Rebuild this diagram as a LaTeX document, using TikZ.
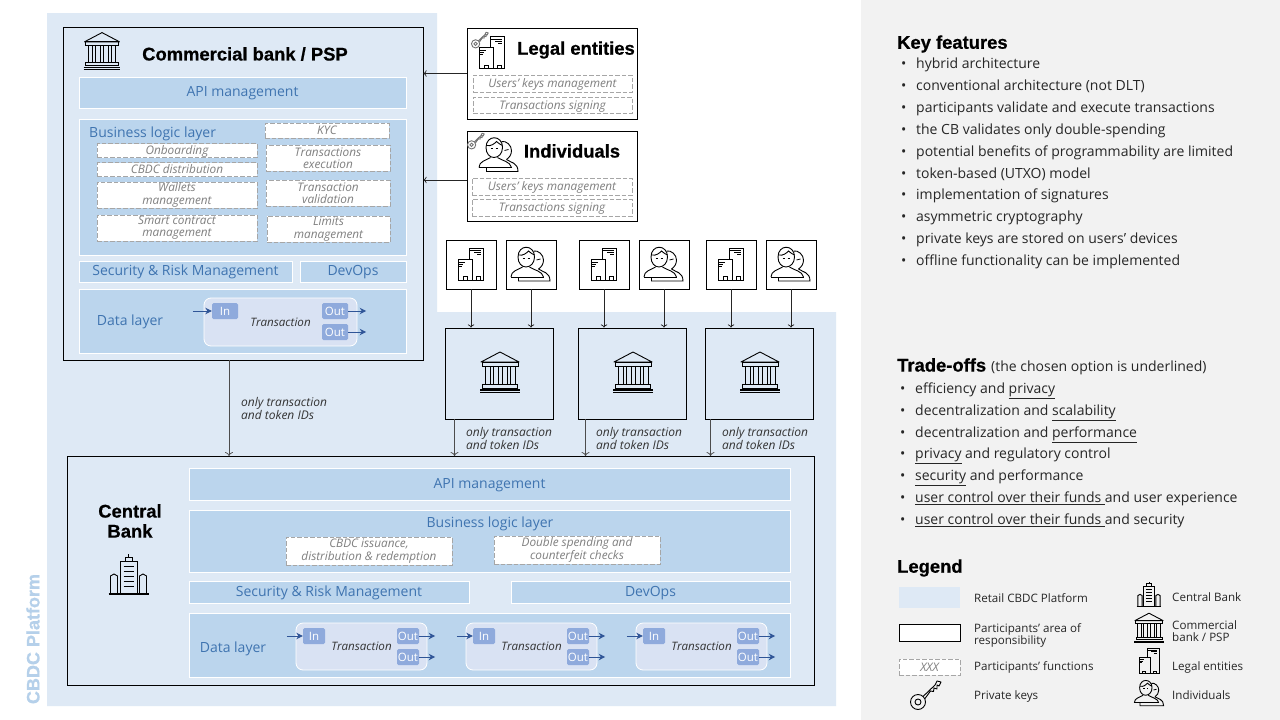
\documentclass[tikz,border=0pt]{standalone}
\usepackage{fontspec}
\setmainfont{Open Sans}
\newfontfamily\headfont[BoldFeatures={FakeBold=0.6}]{Liberation Sans}
\usepackage{tikz}
\usetikzlibrary{positioning}
\usetikzlibrary{arrows.meta}

\definecolor{platform}{HTML}{DEE9F5}
\definecolor{bandblue}{HTML}{BBD5ED}
\definecolor{bandtext}{HTML}{3F74B0}
\definecolor{platformtext}{HTML}{B5D0EA}
\definecolor{panelgrey}{HTML}{F2F2F2}
\definecolor{txbox}{HTML}{D9E2F3}
\definecolor{portblue}{HTML}{8FAADC}
\definecolor{flowblue}{HTML}{2F5597}
\definecolor{dashgrey}{HTML}{A6A6A6}
\definecolor{dashtext}{HTML}{7F7F7F}
\definecolor{bodytext}{HTML}{262626}

\newcommand{\bul}{\makebox[15pt][l]{•}}

\tikzset{
  bankicon/.pic={
    \draw [line width=.9pt,line join=round] (-19,-10) -- (0,-20) -- (19,-10) -- cycle;
    \draw [line width=.9pt] (-18,-10) rectangle (18,-5.5);
    \draw [line width=.9pt] (-15,-5.5) rectangle (15,12.5);
    \draw [line width=.9pt] (-10,-5.5) -- (-10,12.5) (-7,-5.5) -- (-7,12.5) (-2,-5.5) -- (-2,12.5)
      (2,-5.5) -- (2,12.5) (7,-5.5) -- (7,12.5) (10,-5.5) -- (10,12.5);
    \draw [line width=.9pt] (-17.5,12.5) rectangle (17.5,16);
    \draw [line width=1.1pt] (-20,18) -- (20,18);
    \draw [line width=.8pt] (-20,20) -- (20,20);
  },
  towericon/.pic={
    \draw [line width=1.3pt] (-20,19) -- (20,19);
    \draw [line width=.9pt] (-8.5,19) -- (-8.5,-14) -- (8.5,-14) -- (8.5,19);
    \draw [line width=.9pt] (-3.5,-14) -- (-3.5,-18) -- (3.5,-18) -- (3.5,-14);
    \draw [line width=.9pt] (0,-18) -- (0,-21);
    \draw [line width=.9pt] (-18,19) -- (-18,1) -- (-14.5,-1) -- (-11,1) -- (-11,19);
    \draw [line width=.9pt] (18,19) -- (18,1) -- (14.5,-1) -- (11,1) -- (11,19);
    \draw [line width=1pt] (-5,-9) -- (5,-9) (-5,-4) -- (5,-4) (-5,1) -- (5,1) (-5,6) -- (5,6) (-5,11) -- (5,11);
  },
  officeicon/.pic={
    \draw [line width=.9pt] (1.5,-5) -- (-1.5,-5) -- (-1.5,-16) -- (12.5,-16) -- (12.5,16) -- (-12.5,16) -- (-12.5,-5) -- (1.5,-5) -- (1.5,16);
    \draw [line width=.9pt] (-1.5,-13.5) -- (10,-13.5) (3,-11.5) -- (10,-11.5) (6,-9.5) -- (10,-9.5);
    \draw [line width=.9pt] (-12.5,-2) -- (-6,-2) (-12.5,0) -- (-8,0) (-12.5,2) -- (-9,2);
    \draw [line width=.8pt] (-8,16) rectangle (-4,12.5);
    \draw [line width=.8pt] (5,16) rectangle (9,12.5);
  },
  peopleicon/.pic={
    \draw [line width=.9pt] (-12.5,-7) .. controls (-12.5,-20) and (4,-20) .. (4,-7)
      .. controls (4,-1) and (0,3) .. (-4.5,3) .. controls (-9,3) and (-12.5,-1) .. (-12.5,-7);
    \draw [line width=.9pt] (-12,-9) .. controls (-7,-8) and (-4,-11) .. (-2,-13) .. controls (0,-11) and (2,-10) .. (4,-9);
    \draw [line width=.9pt] (-8,-6) -- (-6,-6) (-3,-6) -- (-1,-6);
    \draw [line width=.9pt] (-19.5,13) .. controls (-19.5,7) and (-13,6) .. (-8,3) (-1,3) .. controls (3,6) and (12,7) .. (13,13);
    \draw [line width=.9pt] (-19.5,13) -- (13,13);
    \draw [line width=.9pt] (3,-13) .. controls (8,-14) and (13,-9) .. (13,-4) .. controls (13,0) and (11,3) .. (8,5);
    \draw [line width=.9pt] (8,5) .. controls (12,8) and (19.5,8) .. (19.5,17) -- (-12,17) -- (-12,13);
    \draw [line width=.8pt] (6,-4) -- (10,-5);
  },
  keyicon/.pic={
    \draw [line width=.9pt] (-8,7) circle (7.5);
    \draw [line width=.9pt] (-8,7) circle (3);
    \draw [line width=.9pt,line join=round] (-3,1.5) -- (9,-10) -- (11,-14) -- (15,-13) -- (13,-9) -- (11,-10)
      -- (11,-6) -- (8,-7) -- (7.5,-3.5) -- (4.5,-4) -- (-1,3.5);
  },
  band/.style={draw=white,line width=.7pt,fill=bandblue,text=bandtext,inner sep=0pt,text height=10pt,text depth=1.5pt,font=\fontsize{14}{15}\selectfont},
  bandtitle/.style={inner sep=0pt,text=bandtext,font=\fontsize{14}{15}\selectfont},
  respbox/.style={draw=black,line width=.9pt,inner sep=0pt},
  dashbox/.style={draw=dashgrey,dash pattern=on 4.5pt off 2pt,line width=.9pt,fill=white,text=dashtext,inner sep=0pt,align=center,font=\itshape\fontsize{11.8}{12.2}\selectfont},
  dashone/.style={dashbox,text height=9pt,text depth=1pt},
  txnbox/.style={draw=white,line width=.8pt,fill=txbox,rounded corners=7pt,inner sep=0pt,text=black!80,font=\itshape\fontsize{11.6}{12}\selectfont},
  port/.style={fill=portblue,rounded corners=1.5pt,text=white,inner sep=0pt,font=\fontsize{11.5}{12}\selectfont},
  flow/.style={-{Stealth[length=6.5pt,width=6.5pt]},draw=flowblue,line width=.9pt},
  feed/.style={->,draw=black!85,line width=.7pt},
  drop/.style={-{To[length=4pt,width=8pt]},draw=black!70,line width=.7pt},
  head/.style={inner sep=0pt,font=\headfont\bfseries\fontsize{18.4}{20}\selectfont},
  note/.style={inner sep=0pt,anchor=north west,align=left,text=black!80,font=\itshape\fontsize{12}{11.5}\selectfont},
  listitem/.style={anchor=west,inner sep=0pt,text=bodytext,text height=11pt,text depth=0pt,font=\fontsize{14}{15}\selectfont},
  legtext/.style={anchor=west,inner sep=0pt,align=left,text=bodytext,font=\fontsize{11.6}{12}\selectfont},
  legone/.style={legtext,text height=9.5pt,text depth=.7pt},
}

\begin{document}
\begin{tikzpicture}[x=1pt,y=-1pt]
    \useasboundingbox (0,0) rectangle (1280,720);
    \fill [white] (0,0) rectangle (1280,720);
    \fill [panelgrey] (861,0) rectangle (1280,720);
    \fill [platform] (47,13) -- (437,13) -- (437,312) -- (836,312) -- (836,706) -- (47,706) -- cycle;

    \node (platformname) at (33,639) [rotate=90,inner sep=0pt,text=platformtext,font=\headfont\bfseries\fontsize{18}{18}\selectfont] {CBDC Platform};

    % commercial bank
    \node (psp) at (243,193.5) [respbox,minimum width=360,minimum height=333] {};
    \pic at (102,51) [scale=.92] {bankicon};
    \node (psptitle) at (245,54) [head] {Commercial bank / PSP};
    \node (pspapi) at (242.5,92.5) [band,minimum width=327,minimum height=31] {API management};
    \node (pspbiz) at (242.5,187) [band,minimum width=327,minimum height=136] {};
    \node (pspbiztitle) at (89,134) [bandtitle,anchor=west] {Business logic layer};
    \node (kyc) at (327,130.5) [dashone,minimum width=124,minimum height=15] {KYC};
    \node (onboard) at (177,150.5) [dashone,minimum width=160,minimum height=14] {Onboarding};
    \node (distrib) at (177,169.5) [dashone,minimum width=160,minimum height=14] {CBDC distribution};
    \node (wallets) at (177,195) [dashbox,minimum width=160,minimum height=26] {Wallets\\management};
    \node (smart) at (177,228) [dashbox,minimum width=160,minimum height=26] {Smart contract\\management};
    \node (execut) at (328,158) [dashbox,minimum width=124,minimum height=26] {Transactions\\execution};
    \node (valid) at (328,193) [dashbox,minimum width=124,minimum height=26] {Transaction\\validation};
    \node (limits) at (328.5,229) [dashbox,minimum width=123,minimum height=26] {Limits\\management};
    \node (pspsec) at (185.5,271.5) [band,minimum width=213,minimum height=21] {Security \& Risk Management};
    \node (pspdev) at (353,271.5) [band,minimum width=106,minimum height=21] {DevOps};
    \node (pspdata) at (242.5,321) [band,minimum width=327,minimum height=64] {};
    \node (pspdatatitle) at (130,322) [bandtitle] {Data layer};
    \node (ptx) at (280.5,322) [txnbox,minimum width=153,minimum height=48] {Transaction};
    \node (ptxin) at (225,311) [port,minimum width=26,minimum height=16] {In};
    \node (ptxout1) at (335,311) [port,minimum width=26,minimum height=16] {Out};
    \node (ptxout2) at (335,332) [port,minimum width=26,minimum height=16] {Out};
    \coordinate [left=19pt of ptxin] (ptxa);
    \coordinate [right=18pt of ptxout1] (ptxb);
    \coordinate [right=18pt of ptxout2] (ptxc);
    \draw [flow] (ptxa) to (ptxin);
    \draw [flow] (ptxout1) to (ptxb);
    \draw [flow] (ptxout2) to (ptxc);

    % legal entities and individuals
    \node (legal) at (552,73.5) [respbox,minimum width=170,minimum height=91] {};
    \pic at (492,52.5) {officeicon};
    \pic [color=black!55] at (480,40) [scale=.55] {keyicon};
    \node (legaltitle) at (576,50) [head] {Legal entities};
    \node (legalkeys) at (552.5,83.5) [dashone,fill=none,minimum width=159,minimum height=17] {Users’ keys management};
    \node (legalsign) at (552.5,105) [dashone,fill=none,minimum width=159,minimum height=16] {Transactions signing};
    \node (indiv) at (552,176) [respbox,minimum width=170,minimum height=90] {};
    \pic at (498.5,154.5) {peopleicon};
    \pic [color=black!55] at (476,141) [scale=.55] {keyicon};
    \node (indivtitle) at (572,151) [head] {Individuals};
    \node (indivkeys) at (552,186.5) [dashone,fill=none,minimum width=160,minimum height=17] {Users’ keys management};
    \node (indivsign) at (552,207.5) [dashone,fill=none,minimum width=160,minimum height=17] {Transactions signing};
    \coordinate (indivport) at (467,180);
    \draw [feed] (legal.west) to (legal.west -| psp.east);
    \draw [feed] (indivport) to (indivport -| psp.east);

    % participants of the other banks
    \node (user1) at (471,264.5) [respbox,minimum width=50,minimum height=49] {};
    \node (user2) at (531,264.5) [respbox,minimum width=50,minimum height=49] {};
    \node (user3) at (604,264.5) [respbox,minimum width=50,minimum height=49] {};
    \node (user4) at (664,264.5) [respbox,minimum width=50,minimum height=49] {};
    \node (user5) at (731,264.5) [respbox,minimum width=50,minimum height=49] {};
    \node (user6) at (791,264.5) [respbox,minimum width=50,minimum height=49] {};
    \pic at (471,264) {officeicon};
    \pic at (530.5,264) {peopleicon};
    \pic at (604,264) {officeicon};
    \pic at (663.5,264) {peopleicon};
    \pic at (731,264) {officeicon};
    \pic at (790.5,264) {peopleicon};

    \node (bank1) at (499.5,373.5) [respbox,minimum width=108,minimum height=91] {};
    \node (bank2) at (632.5,373.5) [respbox,minimum width=108,minimum height=91] {};
    \node (bank3) at (759.5,373.5) [respbox,minimum width=108,minimum height=91] {};
    \pic at (500,372) {bankicon};
    \pic at (633,372) {bankicon};
    \pic at (760,372) {bankicon};
    \draw [feed] (user1) to (user1 |- bank1.north);
    \draw [feed] (user2) to (user2 |- bank1.north);
    \draw [feed] (user3) to (user3 |- bank2.north);
    \draw [feed] (user4) to (user4 |- bank2.north);
    \draw [feed] (user5) to (user5 |- bank3.north);
    \draw [feed] (user6) to (user6 |- bank3.north);

    % central bank
    \node (cb) at (440.5,570.5) [respbox,minimum width=747,minimum height=229] {};
    \node (cbtitle) at (130,521) [head,align=center] {Central\\Bank};
    \pic at (128.5,575) {towericon};
    \node (cbapi) at (489.5,484) [band,minimum width=601,minimum height=32] {API management};
    \node (cbbiz) at (489.5,541) [band,minimum width=601,minimum height=62] {};
    \node (cbbiztitle) at (490,524) [bandtitle] {Business logic layer};
    \node (issue) at (369,551) [dashbox,minimum width=166,minimum height=28] {CBDC issuance,\\distribution \& redemption};
    \node (checks) at (577,550) [dashbox,minimum width=166,minimum height=28] {Double spending and\\counterfeit checks};
    \node (cbsec) at (329,592.5) [band,minimum width=280,minimum height=22] {Security \& Risk Management};
    \node (cbdev) at (650.5,592.5) [band,minimum width=279,minimum height=22] {DevOps};
    \node (cbdata) at (489.5,645) [band,minimum width=601,minimum height=64] {};
    \node (cbdatatitle) at (233,649) [bandtitle] {Data layer};

    \node (tx1) at (361.5,646.5) [txnbox,minimum width=131,minimum height=47] {Transaction};
    \node (tx1in) at (314,636) [port,minimum width=22,minimum height=16] {In};
    \node (tx1out1) at (408,636) [port,minimum width=22,minimum height=16] {Out};
    \node (tx1out2) at (408,657) [port,minimum width=22,minimum height=16] {Out};
    \node (tx2) at (531.5,646.5) [txnbox,minimum width=131,minimum height=47] {Transaction};
    \node (tx2in) at (484,636) [port,minimum width=22,minimum height=16] {In};
    \node (tx2out1) at (578,636) [port,minimum width=22,minimum height=16] {Out};
    \node (tx2out2) at (578,657) [port,minimum width=22,minimum height=16] {Out};
    \node (tx3) at (701.5,646.5) [txnbox,minimum width=131,minimum height=47] {Transaction};
    \node (tx3in) at (654,636) [port,minimum width=22,minimum height=16] {In};
    \node (tx3out1) at (748,636) [port,minimum width=22,minimum height=16] {Out};
    \node (tx3out2) at (748,657) [port,minimum width=22,minimum height=16] {Out};
    \coordinate [left=16pt of tx1in] (tx1a);
    \coordinate [right=16pt of tx1out1] (tx1b);
    \coordinate [right=16pt of tx1out2] (tx1c);
    \coordinate [left=16pt of tx2in] (tx2a);
    \coordinate [right=16pt of tx2out1] (tx2b);
    \coordinate [right=16pt of tx2out2] (tx2c);
    \coordinate [left=16pt of tx3in] (tx3a);
    \coordinate [right=16pt of tx3out1] (tx3b);
    \coordinate [right=16pt of tx3out2] (tx3c);
    \draw [flow] (tx1a) to (tx1in);
    \draw [flow] (tx1out1) to (tx1b);
    \draw [flow] (tx1out2) to (tx1c);
    \draw [flow] (tx2a) to (tx2in);
    \draw [flow] (tx2out1) to (tx2b);
    \draw [flow] (tx2out2) to (tx2c);
    \draw [flow] (tx3a) to (tx3in);
    \draw [flow] (tx3out1) to (tx3b);
    \draw [flow] (tx3out2) to (tx3c);

    % links down to the central bank
    \coordinate (drop0) at (229,456);
    \coordinate (drop1) at (454.5,456);
    \coordinate (drop2) at (585.5,456);
    \coordinate (drop3) at (710.5,456);
    \draw [drop] (drop0 |- psp.south) to (drop0);
    \draw [drop] (drop1 |- bank1.south) to (drop1);
    \draw [drop] (drop2 |- bank2.south) to (drop2);
    \draw [drop] (drop3 |- bank3.south) to (drop3);
    \node (note0) at (241,397) [note] {only transaction\\and token IDs};
    \node (note1) at (466,427) [note] {only transaction\\and token IDs};
    \node (note2) at (596,427) [note] {only transaction\\and token IDs};
    \node (note3) at (722,427) [note] {only transaction\\and token IDs};

    % key features
    \node (keyhead) at (897,44) [head,anchor=west] {Key features};
    \node (kf1) at (901,63) [listitem] {\bul hybrid architecture};
    \node (kf2) at (901,85) [listitem] {\bul conventional architecture (not DLT)};
    \node (kf3) at (901,107) [listitem] {\bul participants validate and execute transactions};
    \node (kf4) at (901,129) [listitem] {\bul the CB validates only double-spending};
    \node (kf5) at (901,151) [listitem] {\bul potential benefits of programmability are limited};
    \node (kf6) at (901,173) [listitem] {\bul token-based (UTXO) model};
    \node (kf7) at (901,194) [listitem] {\bul implementation of signatures};
    \node (kf8) at (901,216) [listitem] {\bul asymmetric cryptography};
    \node (kf9) at (901,238) [listitem] {\bul private keys are stored on users’ devices};
    \node (kf10) at (901,260) [listitem] {\bul offline functionality can be implemented};

    % trade-offs
    \node (tradehead) at (897,365) [head,anchor=west] {Trade-offs};
    \node (tradenote) at (991,366) [listitem] {(the chosen option is underlined)};
    \node (to1) at (900,388) [listitem] {\bul efficiency and \underline{privacy}};
    \node (to2) at (900,410) [listitem] {\bul decentralization and \underline{scalability}};
    \node (to3) at (900,432) [listitem] {\bul decentralization and \underline{performance}};
    \node (to4) at (900,453) [listitem] {\bul \underline{privacy} and regulatory control};
    \node (to5) at (900,475) [listitem] {\bul \underline{security} and performance};
    \node (to6) at (900,497) [listitem] {\bul \underline{user control over their funds }and user experience};
    \node (to7) at (900,519) [listitem] {\bul \underline{user control over their funds }and security};

    % legend
    \node (leghead) at (897,568) [head,anchor=west] {Legend};
    \node (legplat) at (929.5,597.5) [fill=platform,minimum width=61,minimum height=21,inner sep=0pt] {};
    \node (legresp) at (929.5,632.5) [respbox,fill=white,minimum width=61,minimum height=17] {};
    \node (legfunc) at (929.5,667) [dashone,minimum width=61,minimum height=16] {XXX};
    \pic at (926,695) {keyicon};
    \node (legplattext) at (974,598) [legone] {Retail CBDC Platform};
    \node (legresptext) at (974,635) [legtext] {Participants' area of\\responsibility};
    \node (legfunctext) at (974,666) [legone] {Participants’ functions};
    \node (legkeytext) at (974,695) [legone] {Private keys};
    \pic at (1149,595) [scale=.62] {towericon};
    \pic at (1149,628) [scale=.74] {bankicon};
    \pic at (1149,661) [scale=.8] {officeicon};
    \pic at (1149,693) [scale=.75] {peopleicon};
    \node (legcbtext) at (1172,597) [legone] {Central Bank};
    \node (legpsptext) at (1172,631) [legtext] {Commercial\\bank / PSP};
    \node (leglegaltext) at (1172,666) [legone] {Legal entities};
    \node (legindtext) at (1172,695) [legone] {Individuals};
\end{tikzpicture}
\end{document}
